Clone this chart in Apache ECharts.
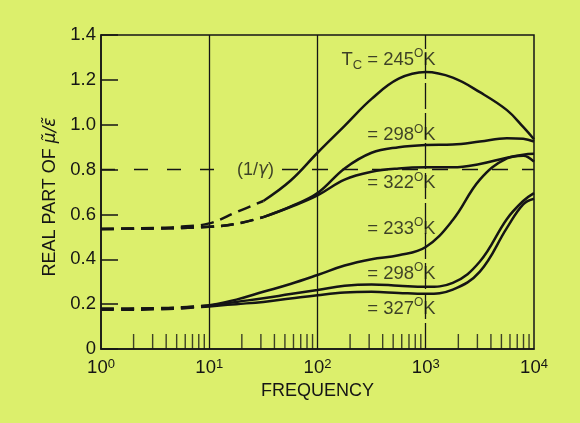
<!DOCTYPE html>
<html>
<head>
<meta charset="utf-8">
<script src="https://cdn.jsdelivr.net/npm/echarts@6.0.0/dist/echarts.min.js"></script>
<style>
  html, body { margin: 0; padding: 0; background: #dcef6c; }
  #chart { width: 580px; height: 423px; }
</style>
</head>
<body>
<div id="chart"></div>
<script>
// frequencies sampled along the log axis
const freqs = [1, 1.78, 3.16, 5.62, 10, 17.8, 31.6, 56.2, 100, 178, 316, 562, 1000, 1778, 3162, 5623, 7943, 10000];

// real part of mu/eps for each curve
const t245 = [0.535, 0.537, 0.54, 0.546, 0.56, 0.61, 0.66, 0.75, 0.875, 0.995, 1.115, 1.205, 1.235, 1.21, 1.145, 1.065, 0.99, 0.935];
const t298a = [0.535, 0.536, 0.537, 0.54, 0.545, 0.558, 0.588, 0.635, 0.695, 0.805, 0.875, 0.9, 0.91, 0.912, 0.925, 0.94, 0.937, 0.925];
const t322 = [0.535, 0.536, 0.537, 0.54, 0.545, 0.558, 0.588, 0.633, 0.685, 0.755, 0.79, 0.805, 0.81, 0.81, 0.825, 0.853, 0.866, 0.87];
const t233 = [0.18, 0.18, 0.182, 0.186, 0.195, 0.22, 0.255, 0.29, 0.33, 0.372, 0.4, 0.418, 0.455, 0.575, 0.755, 0.85, 0.862, 0.835];
const t298b = [0.18, 0.18, 0.181, 0.185, 0.193, 0.21, 0.226, 0.245, 0.263, 0.282, 0.288, 0.282, 0.277, 0.295, 0.39, 0.58, 0.66, 0.695];
const t327 = [0.175, 0.175, 0.177, 0.181, 0.19, 0.2, 0.21, 0.225, 0.24, 0.252, 0.255, 0.25, 0.246, 0.265, 0.345, 0.54, 0.645, 0.67];

// minor ticks of the frequency axis
const minorTicks = [2, 3, 4, 5, 6, 7, 8, 9, 20, 30, 40, 50, 60, 70, 80, 90,
  200, 300, 400, 500, 600, 700, 800, 900, 2000, 3000, 4000, 5000, 6000, 7000, 8000, 9000];

const gammaLevel = 0.8;
const tempLabels = ['245', '298', '322', '233', '298', '327'];
const labelY = [1.29, 0.955, 0.74, 0.537, 0.337, 0.18];

const ink = '#151515';
const font = 'Liberation Sans, Arial, sans-serif';

const curves = [
  { vals: t245, dashTo: 6 },
  { vals: t298a, dashTo: 6 },
  { vals: t322, dashTo: 6 },
  { vals: t233, dashTo: 4 },
  { vals: t298b, dashTo: 4 },
  { vals: t327, dashTo: 4 }
];

const series = [];
curves.forEach(c => {
  const pts = freqs.map((f, i) => [f, c.vals[i]]);
  series.push({
    type: 'line', smooth: 0.4, showSymbol: false, silent: true,
    lineStyle: { color: ink, width: 2.5, type: [13, 7] },
    data: pts.slice(0, c.dashTo + 1)
  });
  series.push({
    type: 'line', smooth: 0.4, showSymbol: false, silent: true,
    lineStyle: { color: ink, width: 2.5 },
    data: pts.slice(c.dashTo)
  });
});

// minor ticks + grid lines + 1/gamma line
series.push({
  type: 'scatter', silent: true, clip: false,
  symbol: 'rect', symbolSize: [1.4, 15], symbolOffset: [0, -7.5],
  itemStyle: { color: ink },
  data: minorTicks.map(f => [f, 0]),
  markLine: {
    silent: true, symbol: 'none', label: { show: false },
    lineStyle: { color: ink, width: 1.3, type: 'solid' },
    data: [
      { xAxis: 10 },
      { xAxis: 100 },
      { xAxis: 1000, lineStyle: { type: [26, 4] } },
      [{ coord: [1, gammaLevel], lineStyle: { type: [14, 19], width: 1.4 } }, { coord: [13.2, gammaLevel] }],
      [{ coord: [47, gammaLevel], lineStyle: { type: [16, 14], width: 1.4 } }, { coord: [10000, gammaLevel] }]
    ]
  }
});

// curve labels
const labelRich = {
  n: { fontSize: 18.5, fontFamily: font, color: ink, lineHeight: 19 },
  s: { fontSize: 12, fontFamily: font, color: ink, lineHeight: 8, padding: [0, 0, 11, 0] },
  c: { fontSize: 13, fontFamily: font, color: ink, lineHeight: 8, padding: [11, 0, 0, 0] }
};
series.push({
  type: 'scatter', silent: true, symbolSize: 0,
  label: {
    show: true, position: 'inside', align: 'left', verticalAlign: 'middle',
    formatter: p => '{n|= ' + p.data[2] + '}{s|O}{n|K}', rich: labelRich
  },
  data: tempLabels.map((t, i) => [288, labelY[i], t])
});
series.push({
  type: 'scatter', silent: true, symbolSize: 0,
  label: {
    show: true, position: 'inside', align: 'right', verticalAlign: 'middle', padding: [0, 5, 0, 0],
    formatter: '{n|T}{c|C}', rich: labelRich
  },
  data: [[288, labelY[0]]]
});
series.push({
  type: 'scatter', silent: true, symbolSize: 0,
  label: {
    show: true, position: 'inside', align: 'center', verticalAlign: 'middle',
    formatter: '{n|(1/}{g|\u03b3}{n|)}',
    rich: {
      n: { fontSize: 18, fontFamily: font, color: ink },
      g: { fontSize: 17, fontFamily: 'DejaVu Sans', fontStyle: 'italic', color: ink }
    }
  },
  data: [[26.7, gammaLevel]]
});

const chart = echarts.init(document.getElementById('chart'));
chart.setOption({
  backgroundColor: '#dcef6c',
  animation: false,
  grid: { left: 101, right: 46, top: 35, bottom: 74, show: true, borderColor: ink, borderWidth: 1.5, backgroundColor: 'transparent' },
  xAxis: {
    type: 'log', logBase: 10, min: 1, max: 10000,
    name: 'FREQUENCY', nameLocation: 'middle', nameGap: 30,
    nameTextStyle: { fontSize: 18, fontFamily: font, color: ink },
    axisLine: { show: true, lineStyle: { color: ink, width: 1.5 } },
    axisTick: { show: false },
    splitLine: { show: false },
    axisLabel: {
      margin: 9,
      formatter: v => '{b|10}{e|' + Math.round(Math.log10(v)) + '}',
      rich: {
        b: { fontSize: 18.5, fontFamily: font, color: ink, lineHeight: 19 },
        e: { fontSize: 13, fontFamily: font, color: ink, lineHeight: 12, padding: [0, 0, 7, 0] }
      }
    }
  },
  yAxis: {
    type: 'value', min: 0, max: 1.4, interval: 0.2,
    name: 'REAL PART OF {g|\u03bc\u0303/\u03b5\u0303}', nameLocation: 'middle', nameGap: 41,
    nameTextStyle: {
      fontSize: 18, fontFamily: font, color: ink, padding: [0, 10, 0, 0],
      rich: { g: { fontSize: 17, fontFamily: 'DejaVu Sans', fontStyle: 'italic', color: ink } }
    },
    axisLine: { show: true, lineStyle: { color: ink, width: 1.5 } },
    axisTick: { show: true, inside: true, length: 17, lineStyle: { color: ink, width: 1.5 } },
    splitLine: { show: false },
    axisLabel: {
      margin: 5, fontSize: 18.5, fontFamily: font, color: ink,
      formatter: v => (v === 0 ? '0' : v.toFixed(1))
    }
  },
  series: series
});
</script>
</body>
</html>
